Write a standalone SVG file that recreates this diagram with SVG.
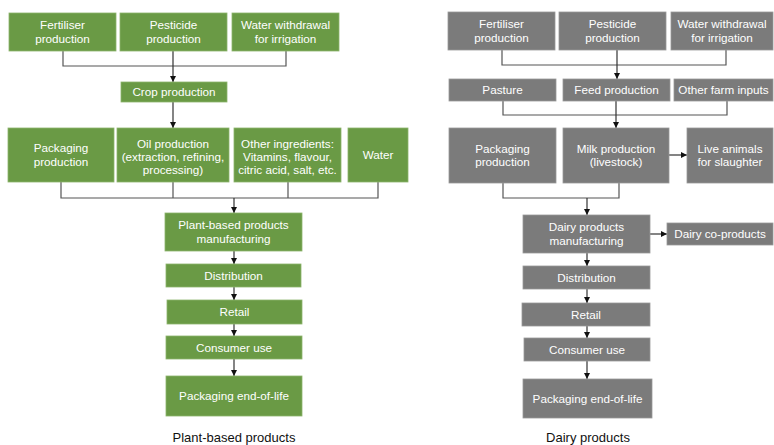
<svg xmlns="http://www.w3.org/2000/svg" width="774" height="445" viewBox="0 0 774 445">
<style>
.g{fill:#6a9a45;stroke:#8db56d;stroke-width:0.8}
.d{fill:#7b7b7b;stroke:#9a9a9a;stroke-width:0.8}
.t{font-family:"Liberation Sans",Arial,sans-serif;font-size:11.7px;fill:#ffffff;text-anchor:middle}
.c{fill:none;stroke:#555555;stroke-width:1.2}
.a{fill:none;stroke:#333333;stroke-width:1.2;marker-end:url(#ah)}
.cap{font-family:"Liberation Sans",Arial,sans-serif;font-size:13px;fill:#111111;text-anchor:middle}
</style>
<defs>
<marker id="ah" markerUnits="userSpaceOnUse" markerWidth="6" markerHeight="6" refX="6" refY="3" orient="auto">
<path d="M0,0 L6,3 L0,6 z" fill="#111111"/>
</marker>
</defs>
<rect width="774" height="445" fill="#ffffff"/>

<g id="connectors">
<!-- left -->
<path class="c" d="M63 51 V66 H286 V51"/>
<path class="a" d="M173 51 V82"/>
<path class="a" d="M173 102 V128"/>
<path class="c" d="M61 182 V198 H378 V182 M173 182 V198 M288 182 V198"/>
<path class="a" d="M234 198 V213"/>
<path class="a" d="M234 251 V264"/>
<path class="a" d="M234 287 V300"/>
<path class="a" d="M234 324 V336"/>
<path class="a" d="M234 359 V376"/>
<!-- right -->
<path class="c" d="M502 50 V65 H726 V50"/>
<path class="a" d="M617 50 V79"/>
<path class="c" d="M503 101 V115 H727 V101"/>
<path class="a" d="M616 101 V128"/>
<path class="a" d="M669 155 H687"/>
<path class="c" d="M503 183 V198 H619 V183"/>
<path class="a" d="M587 198 V215"/>
<path class="a" d="M650 234 H667"/>
<path class="a" d="M587 253 V266"/>
<path class="a" d="M587 289 V303"/>
<path class="a" d="M587 326 V338"/>
<path class="a" d="M587 361 V379"/>
</g>

<!-- Left: plant-based -->
<g id="pb-fertiliser"><rect class="g" x="9" y="13" width="107" height="38"/><text class="t" x="62.5" y="29.4">Fertiliser</text><text class="t" x="62.5" y="42.9">production</text></g>
<g id="pb-pesticide"><rect class="g" x="120" y="13" width="107" height="38"/><text class="t" x="173.5" y="29.4">Pesticide</text><text class="t" x="173.5" y="42.9">production</text></g>
<g id="pb-water-withdrawal"><rect class="g" x="232" y="13" width="107" height="38"/><text class="t" x="285.5" y="29.4">Water withdrawal</text><text class="t" x="285.5" y="42.9">for irrigation</text></g>
<g id="pb-crop"><rect class="g" x="121" y="82" width="106" height="20"/><text class="t" x="174" y="96.2">Crop production</text></g>
<g id="pb-packaging"><rect class="g" x="8" y="128" width="106" height="54"/><text class="t" x="61" y="152.2">Packaging</text><text class="t" x="61" y="165.7">production</text></g>
<g id="pb-oil"><rect class="g" x="117" y="128" width="112" height="54"/><text class="t" x="173" y="147.5">Oil production</text><text class="t" x="173" y="160.8">(extraction, refining,</text><text class="t" x="173" y="174.1">processing)</text></g>
<g id="pb-other"><rect class="g" x="234" y="128" width="107" height="54"/><text class="t" x="287.5" y="147.5">Other ingredients:</text><text class="t" x="287.5" y="160.8">Vitamins, flavour,</text><text class="t" x="287.5" y="174.1">citric acid, salt, etc.</text></g>
<g id="pb-water"><rect class="g" x="348" y="128" width="60" height="54"/><text class="t" x="378" y="159.2">Water</text></g>
<g id="pb-manufacturing"><rect class="g" x="165" y="213" width="137" height="38"/><text class="t" x="233.5" y="229.4">Plant-based products</text><text class="t" x="233.5" y="242.9">manufacturing</text></g>
<g id="pb-distribution"><rect class="g" x="166" y="264" width="135" height="23"/><text class="t" x="233.5" y="279.7">Distribution</text></g>
<g id="pb-retail"><rect class="g" x="167" y="300" width="135" height="24"/><text class="t" x="234.5" y="316.2">Retail</text></g>
<g id="pb-consumer"><rect class="g" x="166" y="336" width="136" height="23"/><text class="t" x="234" y="351.7">Consumer use</text></g>
<g id="pb-eol"><rect class="g" x="166" y="376" width="136" height="40"/><text class="t" x="234" y="400.2">Packaging end-of-life</text></g>
<text class="cap" x="234" y="442">Plant-based products</text>

<!-- Right: dairy -->
<g id="d-fertiliser"><rect class="d" x="448" y="12" width="107" height="38"/><text class="t" x="501.5" y="28.4">Fertiliser</text><text class="t" x="501.5" y="41.9">production</text></g>
<g id="d-pesticide"><rect class="d" x="559" y="12" width="107" height="38"/><text class="t" x="612.5" y="28.4">Pesticide</text><text class="t" x="612.5" y="41.9">production</text></g>
<g id="d-water-withdrawal"><rect class="d" x="671" y="12" width="102" height="38"/><text class="t" x="722" y="28.4">Water withdrawal</text><text class="t" x="722" y="41.9">for irrigation</text></g>
<g id="d-pasture"><rect class="d" x="449" y="79" width="107" height="22"/><text class="t" x="502.5" y="94.2">Pasture</text></g>
<g id="d-feed"><rect class="d" x="563" y="79" width="107" height="22"/><text class="t" x="616.5" y="94.2">Feed production</text></g>
<g id="d-other-inputs"><rect class="d" x="674" y="79" width="99" height="22"/><text class="t" x="723.5" y="94.2">Other farm inputs</text></g>
<g id="d-packaging"><rect class="d" x="449" y="128" width="107" height="55"/><text class="t" x="502.5" y="152.7">Packaging</text><text class="t" x="502.5" y="166.2">production</text></g>
<g id="d-milk"><rect class="d" x="563" y="128" width="106" height="55"/><text class="t" x="616" y="152.7">Milk production</text><text class="t" x="616" y="166.2">(livestock)</text></g>
<g id="d-live-animals"><rect class="d" x="687" y="128" width="86" height="55"/><text class="t" x="730" y="152.7">Live animals</text><text class="t" x="730" y="166.2">for slaughter</text></g>
<g id="d-manufacturing"><rect class="d" x="523" y="215" width="127" height="38"/><text class="t" x="586.5" y="231.4">Dairy products</text><text class="t" x="586.5" y="244.9">manufacturing</text></g>
<g id="d-coproducts"><rect class="d" x="667" y="223" width="106" height="22"/><text class="t" x="720" y="238.2">Dairy co-products</text></g>
<g id="d-distribution"><rect class="d" x="523" y="266" width="127" height="23"/><text class="t" x="586.5" y="281.7">Distribution</text></g>
<g id="d-retail"><rect class="d" x="522" y="303" width="128" height="23"/><text class="t" x="586" y="318.7">Retail</text></g>
<g id="d-consumer"><rect class="d" x="524" y="338" width="126" height="23"/><text class="t" x="587" y="353.7">Consumer use</text></g>
<g id="d-eol"><rect class="d" x="523" y="379" width="129" height="39"/><text class="t" x="587.5" y="402.7">Packaging end-of-life</text></g>
<text class="cap" x="588" y="442">Dairy products</text>
</svg>
